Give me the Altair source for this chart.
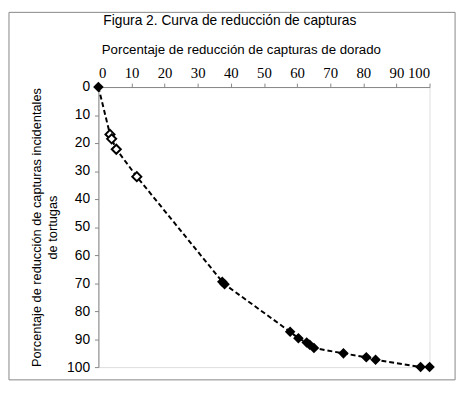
import altair as alt
import pandas as pd

dorado = [0, 3.5, 4.0, 5.4, 11.6, 37.4, 38.1, 57.9, 60.4, 62.9, 63.8, 65.1, 74.0, 80.9, 83.7, 97.3, 100]
tortugas = [0, 16.9, 18.5, 22.2, 32.0, 69.5, 70.4, 87.4, 89.7, 91.2, 92.0, 93.2, 95.1, 96.5, 97.4, 100, 100]
filled = [True, False, False, False, False, True, True, True, True, True, True, True, True, True, True, True, True]
ticks = list(range(0, 101, 10))

df = pd.DataFrame({"x": dorado, "y": tortugas, "filled": filled, "order": list(range(len(dorado)))})

W, H = 337, 285

xs = alt.Scale(domain=[0, 100], nice=False, zero=False)
ys = alt.Scale(domain=[0, 100], reverse=True, nice=False, zero=False)

xaxis = alt.Axis(
    orient="top", values=ticks, grid=False, labelOverlap=False,
    domainColor="#868686", tickColor="#868686", tickSize=4,
    labelFont="Liberation Sans Narrow", labelFontSize=15, labelColor="black",
    labelPadding=3,
    title="Porcentaje de reducción de capturas de dorado",
    titleFont="Liberation Sans", titleFontSize=13.5, titleFontWeight="normal", titleColor="black",
    titleX=145, titleY=-38, titleAlign="center", titleBaseline="middle",
)
yaxis = alt.Axis(
    values=ticks, grid=False, labelOverlap=False,
    domainColor="#868686", tickColor="#868686", tickSize=4,
    labelFont="Liberation Sans", labelFontSize=14, labelColor="black",
    labelPadding=5,
    title=["Porcentaje de reducción de capturas incidentales", "de tortugas"],
    titleFont="Liberation Sans", titleFontSize=13, titleFontWeight="normal", titleColor="black",
    titlePadding=7, titleLineHeight=17,
)

base = alt.Chart(df).encode(
    x=alt.X("x:Q", scale=xs, axis=xaxis),
    y=alt.Y("y:Q", scale=ys, axis=yaxis),
)

line = base.mark_line(color="black", strokeDash=[5, 3], strokeWidth=2).encode(order="order:Q")

pts_filled = base.transform_filter("datum.filled").mark_point(
    shape="diamond", size=115, filled=True, color="black", opacity=1
)

pts_open = base.transform_filter("!datum.filled").mark_point(
    shape="diamond", size=85, fill="white", stroke="black", strokeWidth=2, opacity=1, fillOpacity=1
)

border = alt.Chart(pd.DataFrame({"a": [0]})).mark_rect(
    fill=None, stroke="#868686", strokeWidth=1
).encode(x=alt.value(-91), x2=alt.value(363), y=alt.value(-76), y2=alt.value(298))

title_txt = alt.Chart(pd.DataFrame({"t": ["Figura 2. Curva de reducción de capturas"]})).mark_text(
    font="Liberation Sans", fontSize=14, color="black", align="left", baseline="middle"
).encode(text="t:N", x=alt.value(5), y=alt.value(-67))

chart = alt.layer(border, title_txt, line, pts_open, pts_filled).properties(
    width=W, height=H,
    autosize=alt.AutoSizeParams(type="none"),
    padding={"left": 92, "top": 77, "right": 31, "bottom": 28},
).configure_view(stroke=None).configure(background="white")

chart.save("out.html", embed_options={"renderer": "svg", "actions": False})
